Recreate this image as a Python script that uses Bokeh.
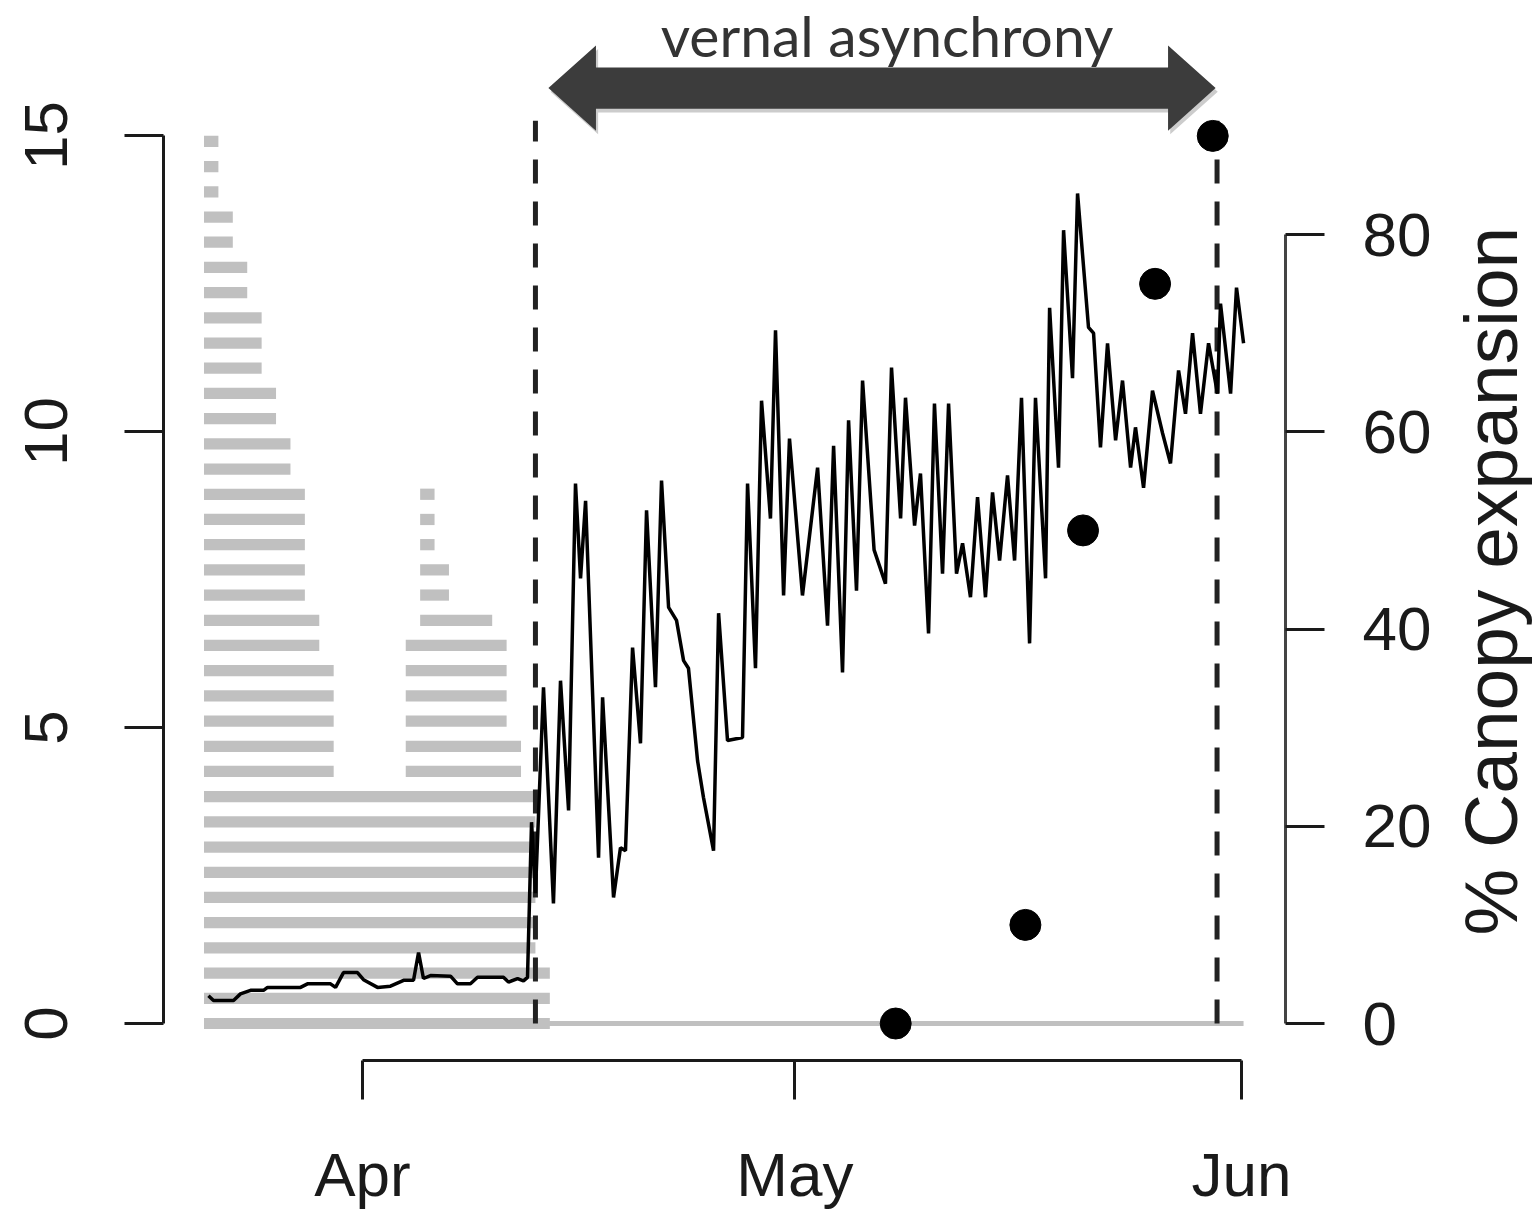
import math
from bokeh.plotting import figure
from bokeh.layouts import row
from bokeh.models import Range1d, LinearAxis, FixedTicker
from bokeh.core.properties import value
from bokeh.embed import file_html
from bokeh.resources import INLINE

# ---------------- data (x = day of year) ----------------
month_tick_doy = [91, 121, 152]
month_tick_labels = ["Apr", "May", "Jun"]
left_ticks = [0, 5, 10, 15]
canopy_ticks = [0, 20, 40, 60, 80]
canopy_axis_label = "% Canopy expansion"
period_label = "vernal asynchrony"

# daily gray bars (left axis)
gray_doy = list(range(80, 104))
gray_val = [15.0, 13.8, 13.0, 12.1, 10.8, 10.0, 9.1, 7.0, 6.1, 4.0, 4.0, 4.0,
            4.0, 3.9, 6.5, 9.1, 7.8, 7.0, 7.0, 7.0, 6.5, 4.8, 4.0, 0.9]

# black series (left axis)
line_doy = [80.31, 80.66, 82.05, 82.53, 83.23, 84.13, 84.41, 86.70, 87.18, 88.78,
            89.13, 89.68, 90.65, 91.07, 92.04, 92.94, 93.85, 94.54, 94.89, 95.23,
            95.72, 97.11, 97.59, 98.49, 98.98, 100.78, 101.13, 101.76, 102.17, 102.45,
            102.73, 103.0, 103.56, 104.25, 104.74, 105.30, 105.78, 106.13, 106.48, 107.38,
            107.66, 108.42, 108.90, 109.25, 109.74, 110.29, 110.71, 111.33, 111.75, 112.24,
            112.79, 113.28, 113.62, 114.25, 114.66, 115.36, 115.71, 116.33, 117.37, 117.72,
            118.27, 118.69, 119.31, 119.66, 120.22, 120.63, 121.53, 122.58, 123.27, 123.69,
            124.31, 124.73, 125.28, 125.70, 126.50, 127.29, 127.71, 128.34, 128.68, 129.31,
            129.72, 130.28, 130.69, 131.25, 131.67, 132.22, 132.64, 133.19, 133.68, 134.23,
            134.72, 135.21, 135.76, 136.25, 136.73, 137.29, 137.70, 138.40, 138.68, 139.30,
            139.65, 140.27, 140.62, 141.38, 141.73, 142.21, 142.70, 143.26, 143.74, 144.30,
            144.64, 145.20, 145.82, 146.52, 147.07, 147.63, 148.11, 148.60, 149.15, 149.71,
            150.33, 150.54, 151.24, 151.65, 152.14]
line_val = [0.47, 0.39, 0.39, 0.50, 0.56, 0.56, 0.61, 0.61, 0.67, 0.67,
            0.61, 0.86, 0.86, 0.74, 0.61, 0.63, 0.73, 0.73, 1.20, 0.76,
            0.81, 0.80, 0.67, 0.67, 0.78, 0.78, 0.70, 0.76, 0.72, 0.78,
            3.40, 2.20, 5.68, 2.03, 5.79, 3.60, 9.12, 7.52, 8.83, 2.80,
            5.51, 2.13, 2.97, 2.92, 6.35, 4.73, 8.67, 5.68, 9.17, 7.03,
            6.81, 6.13, 6.00, 4.44, 3.82, 2.92, 6.93, 4.78, 4.83, 9.12,
            6.00, 10.52, 8.53, 11.71, 7.23, 9.88, 7.23, 9.39, 6.72, 9.76,
            5.93, 10.19, 7.31, 10.86, 8.00, 7.43, 11.08, 8.53, 10.57, 8.41,
            9.29, 6.59, 10.47, 7.60, 10.47, 7.60, 8.11, 7.20, 8.89, 7.20,
            8.97, 7.82, 9.26, 7.82, 10.57, 6.42, 10.57, 7.52, 12.09, 9.39,
            13.40, 10.90, 14.02, 11.76, 11.66, 9.73, 11.49, 9.85, 10.86, 9.39,
            10.07, 9.05, 10.69, 9.97, 9.46, 11.03, 10.30, 11.66, 10.30, 11.49,
            10.64, 12.16, 10.64, 12.43, 11.49]

# canopy observations (right axis)
canopy_doy = [128, 137, 141, 146, 150]
canopy_pct = [0, 10, 50, 75, 90]

# period of vernal asynchrony
asynchrony_start = 103.0
asynchrony_end = 150.3

# ---------------- main figure ----------------
MAIN_W, SIDE_W, H = 1440, 96, 1217
FRAME_H = 1060
p = figure(width=MAIN_W, height=H, output_backend="svg", toolbar_location=None,
           x_range=Range1d(77.19, 155.05), y_range=Range1d(-0.625, 17.28),
           min_border_left=163, min_border_right=MAIN_W - 1285,
           min_border_bottom=H - FRAME_H, min_border_top=0,
           background_fill_color="white", border_fill_color="white")
p.outline_line_color = None
p.grid.visible = False
p.extra_y_ranges = {"canopy": Range1d(-3.75, 103.73)}

TICK_FONT = "Liberation Sans"
INK = "#1a1a1a"
GRAY = "#c0c0c0"

# gray bars drawn as dashed columns -> horizontal stripes
STEP = 0.4257
sx, sy, sw = [], [], []
max_k = int(max(gray_val) / STEP)
for k in range(max_k + 1):
    lvl = k * STEP
    start = None
    last = None
    for d, v in zip(gray_doy, gray_val):
        if v >= lvl:
            if start is None:
                start = d
            last = d
        else:
            if start is not None:
                sx.append((start + last + 1) / 2); sy.append(lvl); sw.append(last + 1 - start)
                start = None
    if start is not None:
        sx.append((start + last + 1) / 2); sy.append(lvl); sw.append(last + 1 - start)
p.rect(x=sx, y=sy, width=sw, height=0.19, fill_color=GRAY, line_color=None)

# zero baseline
p.segment(x0=[gray_doy[0]], y0=[0], x1=[line_doy[-1]], y1=[0],
          line_color=GRAY, line_width=5)

# dashed period limits
p.segment(x0=[asynchrony_start, asynchrony_end], y0=[0, 0],
          x1=[asynchrony_start, asynchrony_end], y1=[15.25, 15.25],
          line_color="#222222", line_width=5, line_dash="24 18")

# black series
p.line(line_doy, line_val, line_color="black", line_width=3.5)

# canopy points
p.scatter(canopy_doy, canopy_pct, y_range_name="canopy", size=31,
          fill_color="black", line_color="black")

# double-headed arrow
tip_l, tip_r, yc = asynchrony_start + 0.9, asynchrony_end - 0.1, 15.8
hl, hh, sh = 3.3, 0.72, 0.35
ax = [tip_l, tip_l + hl, tip_l + hl, tip_r - hl, tip_r - hl, tip_r,
      tip_r - hl, tip_r - hl, tip_l + hl, tip_l + hl]
ay = [yc, yc + hh, yc + sh, yc + sh, yc + hh, yc, yc - hh, yc - sh, yc - sh, yc - hh]
p.patch([v + 0.15 for v in ax], [v - 0.06 for v in ay], fill_color="#9a9a9a",
        fill_alpha=0.5, line_color=None)
p.patch(ax, ay, fill_color="#3c3c3c", line_color=None)

p.text(x=[127.4], y=[16.69], text=[period_label],
       text_align="center", text_baseline="middle",
       text_font=value("Lato"), text_font_size="57px", text_color="#333333")

# bottom axis
xa = p.xaxis[0]
xa.ticker = FixedTicker(ticks=month_tick_doy)
xa.major_label_overrides = {t: lab for t, lab in zip(month_tick_doy, month_tick_labels)}
xa.bounds = (month_tick_doy[0], month_tick_doy[-1])

# left axis
ya = p.yaxis[0]
ya.ticker = FixedTicker(ticks=left_ticks)
ya.bounds = (left_ticks[0], left_ticks[-1])
ya.major_label_orientation = "parallel"

# right axis
ra = LinearAxis(y_range_name="canopy", ticker=FixedTicker(ticks=canopy_ticks),
                bounds=(canopy_ticks[0], canopy_ticks[-1]))
p.add_layout(ra, "right")

for a in (xa, ya, ra):
    a.major_tick_in = 0
    a.minor_tick_in = 0
    a.minor_tick_out = 0
    a.major_tick_out = 39
    a.major_tick_line_width = 3
    a.axis_line_width = 3
    a.axis_line_color = INK
    a.major_tick_line_color = INK
    a.major_label_text_font = TICK_FONT
    a.major_label_text_font_size = "62px"
    a.major_label_text_color = INK
xa.major_label_standoff = 40
ya.major_label_standoff = 57
ra.major_label_standoff = 38
ra.axis_line_color = "#444444"

# ---------------- side strip with the right-axis title ----------------
# (frames in a row are aligned, so this strip's frame spans the same 0..FRAME_H pixels)
side = figure(width=SIDE_W, height=H, output_backend="svg", toolbar_location=None,
              x_range=Range1d(0, SIDE_W), y_range=Range1d(0, FRAME_H),
              x_axis_location=None, y_axis_location=None,
              min_border_left=0, min_border_right=0, min_border_top=0,
              min_border_bottom=H - FRAME_H,
              background_fill_color="white", border_fill_color="white")
side.outline_line_color = None
side.grid.visible = False
side.text(x=[50], y=[FRAME_H - 935], text=[canopy_axis_label], angle=math.pi / 2,
          text_align="left", text_baseline="middle",
          text_font=value(TICK_FONT), text_font_size="75px", text_color=INK)

open("out.html", "w").write(file_html(row(p, side), INLINE))
